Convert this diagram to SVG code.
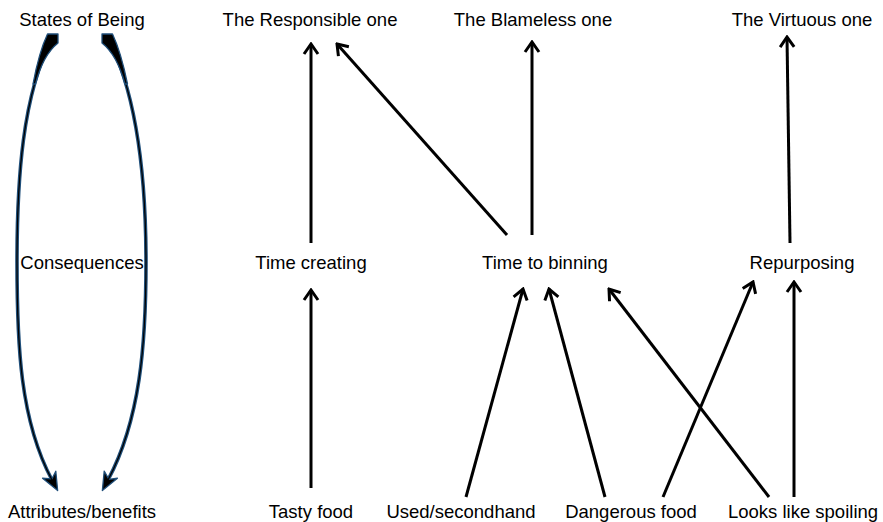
<svg xmlns="http://www.w3.org/2000/svg" width="883" height="522" viewBox="0 0 883 522">
<style>
text{font-family:"Liberation Sans",Arial,Helvetica,sans-serif;font-size:18.5px;fill:#000;text-anchor:middle}
.c{stroke:#000;stroke-width:3;fill:none;marker-end:url(#v)}
.lvl{fill:#000;stroke:#1f4e79;stroke-width:1.3;stroke-linejoin:round}
.body{fill:none;stroke:#1f4e79;stroke-width:3.6;marker-end:url(#h)}
.core{fill:none;stroke:#000;stroke-width:1.2}
</style>
<defs>
<marker id="v" markerUnits="userSpaceOnUse" viewBox="-13 -9 15 18" refX="0" refY="0" markerWidth="15" markerHeight="18" orient="auto">
<path d="M -10 -7 L 0 0 L -10 7" fill="none" stroke="#000" stroke-width="3" stroke-linejoin="miter"/>
</marker>
<marker id="h" markerUnits="userSpaceOnUse" viewBox="-20 -10 34 20" refX="-12" refY="0" markerWidth="34" markerHeight="20" orient="auto">
<path d="M 0 0 L -18 -7.5 L -13 -0.5 L -18 7.5 Z" fill="#000" stroke="#1f4e79" stroke-width="1.3" stroke-linejoin="round"/>
</marker>
</defs>
<rect width="883" height="522" fill="#fff"/>
<g id="levels">
<g id="level-arrow-left">
<path class="body" d="M 53 36 C 22 95, 17 180, 17 262 C 17 345, 20 420, 52 480"/>
<path class="core" d="M 53 36 C 22 95, 17 180, 17 262 C 17 345, 20 420, 52 480"/>
<path class="lvl" d="M 47.5 34 L 58 34 L 58 43 Q 43 55 35.5 84 L 33 84 Q 39 52 47.5 34 Z"/>
</g>
<g id="level-arrow-right">
<path class="body" d="M 107 36 C 138 95, 146 180, 146 262 C 146 345, 140 420, 108 480"/>
<path class="core" d="M 107 36 C 138 95, 146 180, 146 262 C 146 345, 140 420, 108 480"/>
<path class="lvl" d="M 112.5 34 L 102 34 L 102 43 Q 117 55 125 84 L 127.5 84 Q 121 52 112.5 34 Z"/>
</g>
<g id="states"><text x="82" y="26">States of Being</text></g>
<g id="consequences"><text x="82" y="269">Consequences</text></g>
<g id="attributes"><text x="82" y="518">Attributes/benefits</text></g>
</g>
<g id="n-responsible"><text x="310" y="26">The Responsible one</text></g>
<g id="n-blameless"><text x="533" y="26">The Blameless one</text></g>
<g id="n-virtuous"><text x="802" y="26">The Virtuous one</text></g>
<g id="n-timecreating"><text x="311" y="269">Time creating</text></g>
<g id="n-timebinning"><text x="545" y="269">Time to binning</text></g>
<g id="n-repurposing"><text x="802" y="269">Repurposing</text></g>
<g id="n-tasty"><text x="311" y="518">Tasty food</text></g>
<g id="n-used"><text x="461" y="518">Used/secondhand</text></g>
<g id="n-dangerous"><text x="631" y="518">Dangerous food</text></g>
<g id="n-looks"><text x="803" y="518">Looks like spoiling</text></g>
<g id="connectors">
<line class="c" x1="311" y1="243" x2="311" y2="44"/>
<line class="c" x1="507" y1="235" x2="337" y2="44"/>
<line class="c" x1="532" y1="235" x2="532" y2="42"/>
<line class="c" x1="790" y1="243" x2="787" y2="37"/>
<line class="c" x1="311" y1="488" x2="311" y2="290"/>
<line class="c" x1="466" y1="497" x2="523" y2="289"/>
<line class="c" x1="605" y1="497" x2="549" y2="289"/>
<line class="c" x1="769" y1="497" x2="609" y2="289"/>
<line class="c" x1="663" y1="497" x2="753" y2="282"/>
<line class="c" x1="794" y1="497" x2="794" y2="282"/>
</g>
</svg>
